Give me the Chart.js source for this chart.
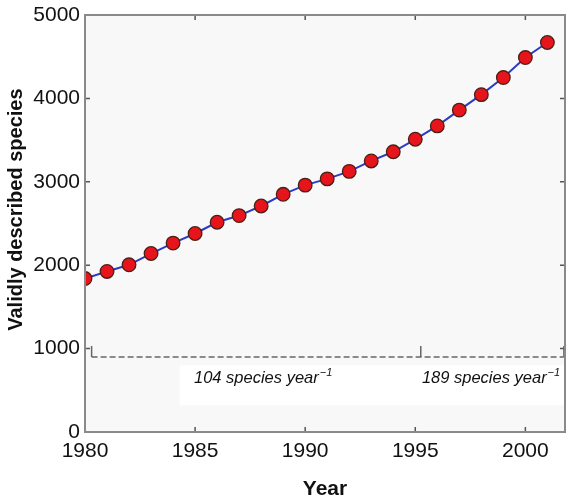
<!DOCTYPE html>
<html>
<head>
<meta charset="utf-8">
<script src="https://cdn.jsdelivr.net/npm/chart.js@4.4.1/dist/chart.umd.min.js"></script>
<style>
  html, body { margin: 0; padding: 0; background: #fff; overflow: hidden; }
  #wrap { width: 566px; height: 498px; }
  canvas { display: block; }
</style>
</head>
<body>
<div id="wrap"><canvas id="speciesChart" width="566" height="498"></canvas></div>
<script>
'use strict';

var years = [1980, 1981, 1982, 1983, 1984, 1985, 1986, 1987, 1988, 1989, 1990,
             1991, 1992, 1993, 1994, 1995, 1996, 1997, 1998, 1999, 2000, 2001];
var species = [1840, 1925, 2005, 2140, 2265, 2380, 2515, 2595, 2710, 2850, 2960,
               3035, 3125, 3250, 3360, 3510, 3670, 3860, 4045, 4250, 4490, 4670];

var yTicks = [0, 1000, 2000, 3000, 4000, 5000];
var xTicks = [1980, 1985, 1990, 1995, 2000];

// bracket under the curve, split at 1995
var bracketYears = [1980.3, 1995.25, 2001.75];
var bracketLevel = 900;
var bracketTop = 1030;
var rateTexts = ['104 species year', '189 species year'];
var rateYears = [1984.95, 1995.3];
var rateLevel = 585;

var fontFamily = "'Liberation Sans', Arial, Helvetica, sans-serif";

var speciesPoints = years.map(function (yr, i) { return { x: yr, y: species[i] }; });

var bracketLine = [
    { x: bracketYears[0], y: bracketLevel },
    { x: bracketYears[bracketYears.length - 1], y: bracketLevel }
];
var bracketTicks = [];
bracketYears.forEach(function (yr) {
    bracketTicks.push({ x: yr, y: bracketLevel });
    bracketTicks.push({ x: yr, y: bracketTop });
    bracketTicks.push({ x: yr, y: null });
});

// light plot background plus the box with inward ticks (MATLAB look)
var boxPlugin = {
    id: 'boxPlugin',
    beforeDatasetsDraw: function (chart) {
        var ctx = chart.ctx, a = chart.chartArea;
        var xs = chart.scales.x, ys = chart.scales.y;
        ctx.save();
        ctx.fillStyle = '#f8f8f8';
        ctx.fillRect(a.left, a.top, a.right - a.left, a.bottom - a.top);
        ctx.fillStyle = '#ffffff';
        var px0 = xs.getPixelForValue(1984.3), py0 = ys.getPixelForValue(800);
        ctx.fillRect(px0, py0, a.right - px0, ys.getPixelForValue(320) - py0);
        ctx.restore();
    },
    afterDatasetsDraw: function (chart) {
        var ctx = chart.ctx, a = chart.chartArea;
        var xs = chart.scales.x, ys = chart.scales.y;
        var len = 5;
        ctx.save();
        ctx.strokeStyle = '#555';
        ctx.lineWidth = 1.5;
        ctx.beginPath();
        xTicks.forEach(function (v) {
            var px = xs.getPixelForValue(v);
            ctx.moveTo(px, a.bottom); ctx.lineTo(px, a.bottom - len);
            ctx.moveTo(px, a.top); ctx.lineTo(px, a.top + len);
        });
        yTicks.forEach(function (v) {
            var py = ys.getPixelForValue(v);
            ctx.moveTo(a.left, py); ctx.lineTo(a.left + len, py);
            ctx.moveTo(a.right, py); ctx.lineTo(a.right - len, py);
        });
        ctx.stroke();
        ctx.strokeStyle = '#8a8a8a';
        ctx.lineWidth = 2;
        ctx.strokeRect(a.left, a.top, a.right - a.left, a.bottom - a.top);

        // rate labels
        ctx.fillStyle = '#111';
        ctx.textBaseline = 'alphabetic';
        ctx.textAlign = 'left';
        rateTexts.forEach(function (t, i) {
            var px = xs.getPixelForValue(rateYears[i]);
            var py = ys.getPixelForValue(rateLevel);
            ctx.font = 'italic 16.5px ' + fontFamily;
            ctx.fillText(t, px, py);
            var w = ctx.measureText(t).width;
            ctx.font = 'italic 11px ' + fontFamily;
            ctx.fillText('\u22121', px + w + 1, py - 7);
        });
        ctx.restore();
    }
};

new Chart(document.getElementById('speciesChart'), {
    type: 'line',
    data: {
        datasets: [
            {
                label: 'Bracket',
                data: bracketLine,
                borderColor: '#666',
                borderWidth: 1.5,
                borderDash: [6, 3],
                pointRadius: 0,
                fill: false
            },
            {
                label: 'Bracket ticks',
                data: bracketTicks,
                borderColor: '#666',
                borderWidth: 1.5,
                pointRadius: 0,
                spanGaps: false,
                fill: false
            },
            {
                label: 'Validly described species',
                data: speciesPoints,
                borderColor: '#2b3cc0',
                borderWidth: 2,
                pointRadius: 6.8,
                pointBackgroundColor: '#e8141c',
                pointBorderColor: '#4a2016',
                pointBorderWidth: 1.3,
                tension: 0,
                fill: false
            }
        ]
    },
    options: {
        responsive: false,
        animation: false,
        devicePixelRatio: 1,
        layout: { autoPadding: false, padding: { top: 15, right: 1, left: 0, bottom: 0 } },
        plugins: {
            legend: { display: false },
            tooltip: { enabled: false }
        },
        scales: {
            x: {
                type: 'linear',
                min: 1980,
                max: 2001.8,
                afterFit: function (s) {
                    s.height = 66;
                    s.paddingLeft = 0;
                    s.paddingRight = 0;
                },
                grid: { display: false, drawTicks: false },
                border: { display: false },
                ticks: {
                    stepSize: 5,
                    includeBounds: false,
                    padding: 7,
                    color: '#111',
                    font: { family: fontFamily, size: 21 },
                    maxRotation: 0,
                    callback: function (v) { return String(v); }
                },
                title: {
                    display: true,
                    text: 'Year',
                    color: '#111',
                    padding: 0,
                    font: { family: fontFamily, size: 21, weight: 'bold', lineHeight: 0.8 }
                }
            },
            y: {
                min: 0,
                max: 5000,
                afterFit: function (s) {
                    s.width = 85;
                    s.paddingTop = 0;
                    s.paddingBottom = 0;
                },
                grid: { display: false, drawTicks: false },
                border: { display: false },
                ticks: {
                    stepSize: 1000,
                    padding: 5,
                    color: '#111',
                    font: { family: fontFamily, size: 21 },
                    callback: function (v) { return String(v); }
                },
                title: {
                    display: true,
                    text: '     Validly described species',
                    color: '#111',
                    padding: { top: 4, bottom: 0 },
                    font: { family: fontFamily, size: 20, weight: 'bold' }
                }
            }
        }
    },
    plugins: [boxPlugin]
});
</script>
</body>
</html>
